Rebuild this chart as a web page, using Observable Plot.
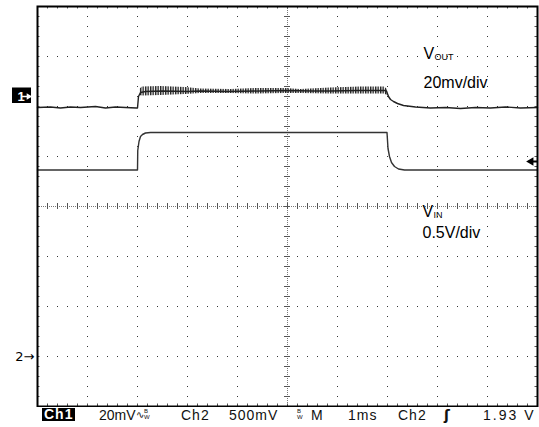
<!DOCTYPE html>
<html><head><meta charset="utf-8">
<script src="https://cdn.jsdelivr.net/npm/d3@7"></script>
<script src="https://cdn.jsdelivr.net/npm/@observablehq/plot@0.6"></script>
<style>
body{margin:0;background:#fff;}
#wrap{position:relative;width:539px;height:427px;overflow:hidden;background:#fff;}
#status{position:relative;width:539px;height:20px;font-family:"Liberation Sans",Arial,sans-serif;font-size:14px;color:#111;}
#status span{position:absolute;top:0;line-height:16px;white-space:nowrap;}
</style></head><body><div id="wrap"></div>
<script>
// ---- data (time in ms, amplitude in screen divisions) ----
const voutT = [-5, -4.74, -4.54, -4.34, -4.14, -3.84, -3.64, -3.44, -3.24, -3.02,
  -3.0, -2.98, -2.94, -2.84, -2.5, -2.0, -1.74, -1.2, -0.54, 0, 0.5, 0.86, 1.4, 1.94,
  1.98, 2.02, 2.06, 2.12, 2.2, 2.32, 2.56, 2.86, 3.16, 3.46, 3.76, 4.06, 4.36, 4.66, 5];
const voutV = [1.98, 1.99, 1.97, 1.99, 1.98, 2.00, 1.97, 1.99, 1.98, 1.97,
  1.97, 2.20, 2.28, 2.30, 2.31, 2.30, 2.31, 2.30, 2.31, 2.32, 2.31, 2.31, 2.32, 2.32,
  2.31, 2.20, 2.14, 2.10, 2.06, 2.02, 1.99, 1.97, 1.98, 1.96, 1.98, 1.97, 1.99, 1.97, 1.98];
// ripple envelope of VOUT while the input is high
const rippleT  = [-2.96, -2.90, -2.54, -2.04, -1.74, -1.14, -0.64, -0.04, 0.26, 0.86, 1.46, 1.94, 2.0];
const rippleHi = [2.34, 2.39, 2.40, 2.38, 2.35, 2.34, 2.36, 2.36, 2.34, 2.37, 2.39, 2.39, 2.34];
const rippleLo = [2.22, 2.21, 2.22, 2.24, 2.26, 2.26, 2.25, 2.26, 2.26, 2.25, 2.25, 2.25, 2.22];
const vinT = [-5, -3.0, -2.995, -2.97, -2.94, -2.90, -2.84, -2.74, 1.99, 2.01, 2.04, 2.08, 2.14, 2.22, 2.34, 5];
const vinV = [0.73, 0.73, 1.12, 1.30, 1.40, 1.44, 1.47, 1.48, 1.48, 1.16, 1.00, 0.88, 0.80, 0.75, 0.73, 0.73];
const CH1_REF = 2.2, CH2_REF = -3, TRIG_LEVEL = 0.9;
const labels = ["20mv/div", "0.5V/div"];
const symbols = ["V", "V"];
const subs = ["OUT", "IN"];
const statusText = ["Ch1", "20mV", "Ch2", "500mV", "M", "1ms", "Ch2", "1.93 V"];

// ---- layout ----
const X_DOMAIN = [-5, 5], Y_DOMAIN = [-4, 4];
const gridT = d3.range(-4, 5).filter(t => t !== 0);
const gridV = d3.range(-3, 4).filter(v => v !== 0);
const minorT = d3.range(-25, 26).map(i => i / 5);
const minorV = d3.range(-20, 21).map(i => i / 5);
const vout = voutT.map((t, i) => ({t, v: voutV[i]}));
const vin = vinT.map((t, i) => ({t, v: vinV[i]}));
const ripple = rippleT.map((t, i) => ({t, lo: rippleLo[i], hi: rippleHi[i]}));
const labelPos = [{t: 2.72, v: 2.38}, {t: 2.70, v: -0.62}];
const symPos = [{t: 2.72, v: 2.96}, {t: 2.70, v: -0.20}];
const font = "Liberation Sans, Arial, sans-serif";
const dfont = "DejaVu Sans, sans-serif";

const chart = Plot.plot({
  width: 539, height: 407,
  marginLeft: 37, marginRight: 2, marginTop: 6, marginBottom: 1,
  style: {background: "white"},
  x: {domain: X_DOMAIN, axis: null},
  y: {domain: Y_DOMAIN, axis: null},
  marks: [
    Plot.ruleX(gridT, {stroke: "#333", strokeDasharray: "1,9"}),
    Plot.ruleY(gridV, {stroke: "#333", strokeDasharray: "1,9"}),
    Plot.ruleX([0], {stroke: "#777", strokeDasharray: "1,1"}),
    Plot.ruleY([0], {stroke: "#777", strokeDasharray: "1,1"}),
    Plot.ruleY(minorV, {y: d => d, x1: -0.06, x2: 0.06, stroke: "#555"}),
    Plot.ruleX(minorT, {x: d => d, y1: -0.06, y2: 0.06, stroke: "#555"}),
    Plot.ruleY(minorV, {y: d => d, x1: -5, x2: -4.95, stroke: "#555"}),
    Plot.ruleY(minorV, {y: d => d, x1: 4.95, x2: 5, stroke: "#555"}),
    Plot.ruleX(minorT, {x: d => d, y1: 4, y2: 3.95, stroke: "#555"}),
    Plot.ruleX(minorT, {x: d => d, y1: -4, y2: -3.95, stroke: "#555"}),
    Plot.areaY(ripple, {x: "t", y1: "lo", y2: "hi", fill: "url(#ripple-hatch)"}),
    Plot.line(vout, {x: "t", y: "v", stroke: "#222", strokeWidth: 1.4}),
    Plot.line(vin, {x: "t", y: "v", stroke: "#333", strokeWidth: 1.4}),
    Plot.frame({stroke: "black", strokeWidth: 2}),
    Plot.text(symPos, {x: "t", y: "v", text: (d, i) => symbols[i], textAnchor: "start", lineAnchor: "bottom", fontSize: 16, fontFamily: font, fill: "black"}),
    Plot.text(symPos, {x: "t", y: "v", text: (d, i) => subs[i], textAnchor: "start", lineAnchor: "bottom", dx: 11, dy: 1, fontSize: 9, fontFamily: font, fill: "black"}),
    Plot.text(labelPos, {x: "t", y: "v", text: (d, i) => labels[i], textAnchor: "start", lineAnchor: "bottom", fontSize: 16, fontFamily: font, fill: "black"}),
    // channel 1 reference marker: black box with white "1" and arrow
    Plot.rect([CH1_REF], {x1: X_DOMAIN[0] - 0.5, x2: X_DOMAIN[0] - 0.12, y1: d => d + 0.17, y2: d => d - 0.14, fill: "black"}),
    Plot.text([CH1_REF], {y: d => d, frameAnchor: "left", dx: -20, text: () => "1", fill: "white", fontSize: 13, fontWeight: "bold", fontFamily: font}),
    Plot.ruleY([CH1_REF], {y: d => d, x1: X_DOMAIN[0] - 0.3, x2: X_DOMAIN[0] - 0.2, stroke: "white", strokeWidth: 1.5}),
    Plot.dot([CH1_REF], {y: d => d, frameAnchor: "left", dx: -9, symbol: "triangle2", r: 3, rotate: 90, fill: "white", stroke: "none"}),
    Plot.text([CH2_REF], {y: d => d, frameAnchor: "left", dx: -3, textAnchor: "end", text: () => "2→", fill: "black", fontSize: 13, fontFamily: dfont}),
    Plot.dot([TRIG_LEVEL], {y: d => d, frameAnchor: "right", dx: -6.5, symbol: "triangle2", r: 4, rotate: -90, fill: "black", stroke: "none"}),
    Plot.ruleY([TRIG_LEVEL], {y: d => d, x1: 4.88, x2: 5, stroke: "black", strokeWidth: 2})
  ]
});
// hatch pattern for the ripple band (vertical oscillation strokes)
const ns = "http://www.w3.org/2000/svg";
const defs = document.createElementNS(ns, "defs");
const pat = document.createElementNS(ns, "pattern");
pat.setAttribute("id", "ripple-hatch");
pat.setAttribute("patternUnits", "userSpaceOnUse");
pat.setAttribute("width", "2.5"); pat.setAttribute("height", "10");
const pr = document.createElementNS(ns, "rect");
pr.setAttribute("width", "1.4"); pr.setAttribute("height", "10"); pr.setAttribute("fill", "#222");
pat.appendChild(pr); defs.appendChild(pat);
const svg = chart.tagName.toLowerCase() === "svg" ? chart : chart.querySelector("svg");
svg.insertBefore(defs, svg.firstChild);

const wrap = document.getElementById("wrap");
wrap.appendChild(chart);

// ---- status bar ----
const status = document.createElement("div");
status.id = "status";
wrap.appendChild(status);
const statusLeft = [42, 99, 181, 229, 311, 348, 398, 483];
const statusSpacing = [1, 0, 1, 1, 1, 1, 1, 2];
statusText.forEach((s, i) => {
  const sp = document.createElement("span");
  sp.textContent = s;
  sp.style.left = statusLeft[i] + "px";
  sp.style.letterSpacing = statusSpacing[i] + "px";
  if (i === 0) {
    sp.style.background = "black"; sp.style.color = "white";
    sp.style.fontWeight = "bold"; sp.style.top = "1px"; sp.style.lineHeight = "13px";
    sp.style.padding = "0 2px";
  }
  status.appendChild(sp);
});
function small(txt, left, top, size, fam) {
  const sp = document.createElement("span");
  sp.textContent = txt; sp.style.left = left + "px"; sp.style.top = top + "px";
  sp.style.fontSize = size + "px"; sp.style.lineHeight = size + "px";
  if (fam) sp.style.fontFamily = fam;
  status.appendChild(sp);
}
small("∿", 136, 3, 10, "DejaVu Sans");
small("B", 144, 1, 6); small("W", 144, 7, 6);
small("B", 297, 1, 6); small("W", 297, 7, 6);
const trig = document.createElement("span");
trig.textContent = "ʃ"; trig.style.left = "444px"; trig.style.fontWeight = "bold";
trig.style.fontFamily = "DejaVu Sans"; trig.style.fontSize = "14px";
status.appendChild(trig);
</script></body></html>
